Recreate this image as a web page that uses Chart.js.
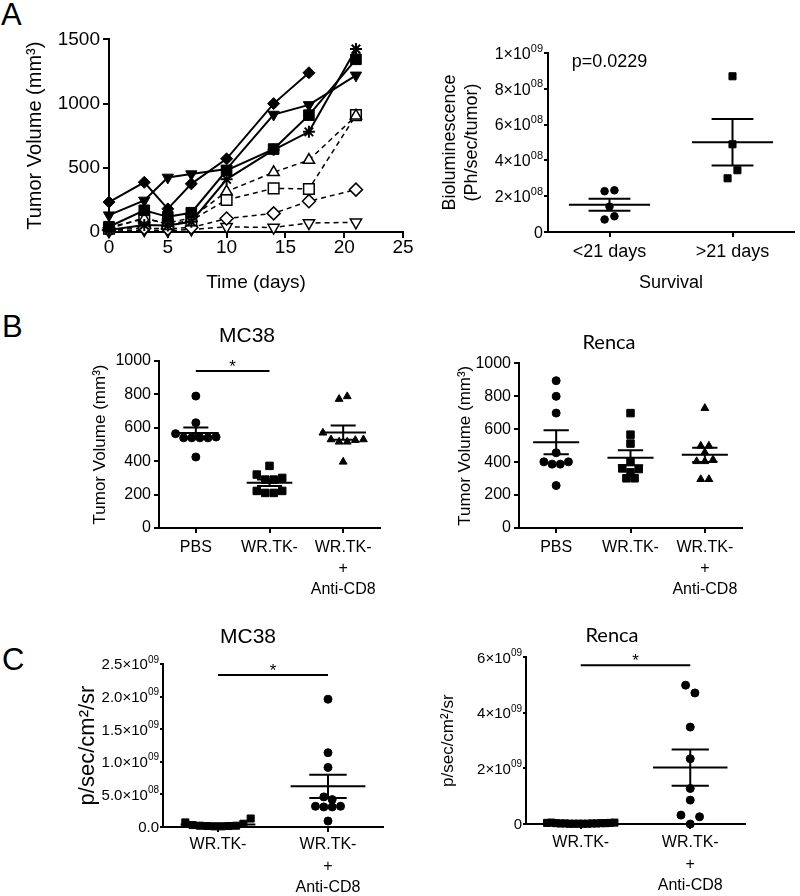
<!DOCTYPE html>
<html><head><meta charset="utf-8">
<script src="https://cdn.jsdelivr.net/npm/chart.js@4.4.1/dist/chart.umd.min.js"></script>
<style>
body{margin:0;background:#fff;width:800px;height:896px;position:relative;overflow:hidden;font-family:"Liberation Sans",Arial,sans-serif;}
canvas{position:absolute;}
.lab{position:absolute;font-size:31px;line-height:31px;color:#000;}
</style></head><body>
<div class="lab" style="left:1px;top:-1px">A</div>
<div class="lab" style="left:2px;top:311px">B</div>
<div class="lab" style="left:2px;top:644px">C</div>
<canvas id="aL"></canvas><canvas id="aR"></canvas>
<canvas id="bL"></canvas><canvas id="bR"></canvas>
<canvas id="cL"></canvas><canvas id="cR"></canvas>
<script>
// ---------------- DATA ----------------
// Panel A (left): tumor volume over time, individual mice
const days = [0, 3, 5, 7, 10, 14, 17, 21];
const solidDiamond = [233, 387, 180, 375, 570, 1000, 1240, null];
const solidTriDown = [131, 246, 425, 451, 490, 915, 990, 1220];
const solidSquare  = [41, 169, 118, 150, 480, 646, 910, 1345];
const solidStar    = [15, 55, 50, 80, 410, 640, 780, 1425];
const openTriUp    = [40, 100, 70, 110, 315, 465, 560, 905];
const openSquare   = [25, 110, 60, 90, 250, 340, 335, 910];
const openDiamond  = [15, 30, 25, 35, 105, 145, 240, 330];
const openTriDown  = [5, 15, 10, 20, 40, 35, 70, 75];
const aLxTitle = 'Time (days)';
const aLyTitle = 'Tumor Volume (mm³)';

// Panel A (right): bioluminescence vs survival
const survivalCats = ['<21 days', '>21 days'];
const biolumLt21 = [2.28e8, 2.33e8, 1.42e8, 0.7e8, 0.88e8];
const biolumGt21 = [8.7e8, 4.9e8, 3.0e8, 3.45e8];
const aRyTicks = ['0', '2×10⁰⁸', '4×10⁰⁸', '6×10⁰⁸', '8×10⁰⁸', '1×10⁰⁹'];
const aRpValue = 'p=0.0229';

// Panel B: tumor volume
const treatCats3 = ['PBS', 'WR.TK-', 'WR.TK-\n+\nAnti-CD8'];
const mc38PBS  = [790, 630, 565, 540, 540, 540, 540, 545, 425];
const mc38WR   = [372, 320, 290, 290, 300, 222, 210, 210, 222];
const mc38Anti = [772, 788, 570, 530, 516, 516, 526, 530, 396];
const rencaPBS  = [895, 800, 698, 457, 402, 388, 388, 402, 258];
const rencaWR   = [698, 567, 513, 402, 362, 338, 302, 302, 358];
const rencaAnti = [728, 499, 499, 459, 405, 405, 415, 296, 296];
const bTicks = ['0', '200', '400', '600', '800', '1000'];

// Panel C: p/sec/cm2/sr
const treatCats2 = ['WR.TK-', 'WR.TK-\n+\nAnti-CD8'];
const cMC38WR   = [0.07e9, 0.03e9, 0.02e9, 0.015e9, 0.01e9, 0.01e9, 0.015e9, 0.02e9, 0.05e9, 0.13e9];
const cMC38Anti = [1.96e9, 1.14e9, 0.914e9, 0.462e9, 0.42e9, 0.318e9, 0.308e9, 0.308e9, 0.318e9, 0.092e9];
const cRencaWR  = [0.04e9, 0.05e9, 0.03e9, 0.02e9, 0.02e9, 0.01e9, 0.01e9, 0.01e9, 0.01e9, 0.01e9, 0.02e9, 0.02e9, 0.03e9, 0.03e9, 0.04e9, 0.05e9];
const cRencaAnti = [5.0e9, 4.72e9, 3.49e9, 2.35e9, 1.28e9, 0.86e9, 0.32e9, 0.0, 0.26e9];
const cLyTicks = ['0.0', '5.0×10⁰⁸', '1.0×10⁰⁹', '1.5×10⁰⁹', '2.0×10⁰⁹', '2.5×10⁰⁹'];
const cRyTicks = ['0', '2×10⁰⁹', '4×10⁰⁹', '6×10⁰⁹'];
const cYTitle = 'p/sec/cm²/sr';
const sigMC38B = 940, sigMC38C = 2.33e9, sigRencaC = 5.72e9;

// ---------------- HELPERS ----------------
const FONT = '"Liberation Sans", Arial, sans-serif';
const NARROW = 'Lato, "Liberation Sans", sans-serif';
Chart.defaults.font.family = FONT;
Chart.defaults.color = '#000';

const mean = a => a.reduce((s, v) => s + v, 0) / a.length;
const sem = a => { const m = mean(a); return Math.sqrt(a.reduce((s, v) => s + (v - m) ** 2, 0) / (a.length - 1) / a.length); };

function swarm(vals, tol, step) {
  const idx = vals.map((_, i) => i).sort((a, b) => vals[a] - vals[b]);
  const off = vals.map(() => 0);
  let cur = [idx[0]];
  const flush = () => { cur.sort((a, b) => a - b); cur.forEach((i, k) => off[i] = (k - (cur.length - 1) / 2) * step); };
  for (let k = 1; k < idx.length; k++) {
    if (vals[idx[k]] - vals[idx[k - 1]] < tol) cur.push(idx[k]); else { flush(); cur = [idx[k]]; }
  }
  flush();
  return off;
}

function place(id, b) {
  const c = document.getElementById(id);
  c.width = b.w; c.height = b.h;
  c.style.left = b.l + 'px'; c.style.top = b.t + 'px';
  c.style.width = b.w + 'px'; c.style.height = b.h + 'px';
  return c;
}
const gridOpt = tl => ({display: true, drawOnChartArea: false, drawTicks: true, tickLength: tl, tickWidth: 2, tickColor: '#000', color: '#000', lineWidth: 2});
const border = {display: true, color: '#000', width: 2};

const notes = {
  id: 'notes',
  afterDatasetsDraw(chart, args, o) {
    const {ctx, scales: {x, y}} = chart;
    (o.items || []).forEach(it => {
      ctx.save();
      ctx.font = (it.size || 16) + 'px ' + (it.family || FONT);
      ctx.fillStyle = '#000';
      ctx.textAlign = 'center';
      ctx.textBaseline = it.baseline || 'middle';
      ctx.fillText(it.text, x.getPixelForValue(it.x), y.getPixelForValue(it.y) + (it.dy || 0));
      ctx.restore();
    });
  }
};

// y tick labels with true superscript exponents (e.g. 2×10⁰⁸)
const SUP = {'⁰': '0', '¹': '1', '²': '2', '³': '3', '⁴': '4', '⁵': '5', '⁶': '6', '⁷': '7', '⁸': '8', '⁹': '9'};
const supTicks = {
  id: 'supTicks',
  afterDraw(chart, args, o) {
    if (!o.labels) return;
    const ys = chart.scales.y, ctx = chart.ctx, f = o.size;
    const xr = ys.right - o.tl - o.pad;
    ctx.save();
    ctx.fillStyle = '#000';
    ctx.textBaseline = 'alphabetic';
    ys.ticks.forEach(t => {
      const lab = o.labels[Math.round(t.value / o.step)];
      if (lab === undefined) return;
      const py = ys.getPixelForValue(t.value);
      const base = py + 0.358 * f;
      const m = lab.match(/^(.*?)([⁰¹²³⁴⁵⁶⁷⁸⁹]+)$/);
      if (!m) {
        ctx.font = f + 'px ' + FONT; ctx.textAlign = 'right';
        ctx.fillText(lab, xr, base);
        return;
      }
      const exp = m[2].split('').map(ch => SUP[ch]).join('');
      const fe = Math.round(f * 0.66);
      ctx.font = fe + 'px ' + FONT;
      const we = ctx.measureText(exp).width;
      ctx.textAlign = 'left';
      ctx.fillText(exp, xr - we, base - 0.45 * f);
      ctx.font = f + 'px ' + FONT; ctx.textAlign = 'right';
      ctx.fillText(m[1], xr - we, base);
    });
    ctx.restore();
  }
};

// ---------------- PANEL A LEFT ----------------
(function () {
  const b = {l: 0, t: 25, w: 420, h: 275};
  const series = [
    {v: solidDiamond, s: 'rectRot', r: 6, f: true},
    {v: solidTriDown, s: 'triangle', r: 6.5, f: true, rot: 180},
    {v: solidSquare, s: 'rect', r: 7.5, f: true},
    {v: solidStar, s: 'star', r: 6, f: true},
    {v: openTriUp, s: 'triangle', r: 6.5, f: false},
    {v: openSquare, s: 'rect', r: 7.5, f: false},
    {v: openDiamond, s: 'rectRot', r: 6.5, f: false},
    {v: openTriDown, s: 'triangle', r: 6.5, f: false, rot: 180}
  ];
  const ds = series.map(o => ({
    data: days.map((d, i) => ({x: d, y: o.v[i]})),
    showLine: true, borderColor: '#000', borderWidth: o.f ? 2 : 1.5, borderDash: o.f ? [] : [5, 4],
    pointStyle: o.s, pointRadius: o.r, pointRotation: o.rot || 0,
    pointBackgroundColor: o.f ? '#000' : '#fff', pointBorderColor: '#000', pointBorderWidth: o.f ? (o.s === 'star' ? 2 : 1) : 1.5,
    clip: false, spanGaps: false
  }));
  new Chart(place('aL', b), {
    type: 'scatter',
    data: {datasets: ds},
    options: {
      responsive: false, animation: false, devicePixelRatio: 1,
      layout: {padding: {top: 12, right: 17, left: 0, bottom: 0}},
      plugins: {legend: {display: false}, tooltip: {enabled: false}},
      scales: {
        x: {type: 'linear', min: 0, max: 25, ticks: {stepSize: 5, callback: v => String(v), font: {size: 19, lineHeight: 1}, padding: 0, color: '#000', maxRotation: 0},
            grid: gridOpt(6), border,
            title: {display: true, text: aLxTitle, font: {size: 19}, padding: {top: 0, bottom: 6}, color: '#000'},
            afterFit: s => { s.height = 68; }},
        y: {min: 0, max: 1500, ticks: {stepSize: 500, callback: v => String(v), font: {size: 19}, padding: 3, color: '#000'},
            grid: gridOpt(6), border,
            title: {display: true, text: aLyTitle, font: {size: 20}, padding: {top: 23, bottom: 0}, color: '#000'},
            afterFit: s => { s.width = 109; }}
      }
    }
  });
})();

// ---------------- DOT CHART BUILDER ----------------
function dotChart(id, b, c) {
  const n = c.cats.length;
  const ds = [];
  c.groups.forEach((g, i) => {
    const off = swarm(g.vals, c.tol, g.step);
    ds.push({type: 'scatter', data: g.vals.map((v, k) => ({x: i + off[k], y: v})),
      pointStyle: g.style, pointRadius: g.r, pointRotation: 0,
      pointBackgroundColor: '#000', pointBorderColor: '#000', pointBorderWidth: 1, clip: false, order: 2});
  });
  const ms = [];
  c.groups.forEach((g, i) => {
    const m = mean(g.vals), s = sem(g.vals), wm = c.wMean, ws = c.wSem;
    ms.push({x: i - wm, y: m}, {x: i + wm, y: m}, {x: i, y: null},
            {x: i - ws, y: m + s}, {x: i + ws, y: m + s}, {x: i, y: null},
            {x: i - ws, y: m - s}, {x: i + ws, y: m - s}, {x: i, y: null},
            {x: i, y: m - s}, {x: i, y: m + s}, {x: i, y: null});
  });
  ds.push({type: 'line', data: ms, borderColor: '#000', borderWidth: 2, pointRadius: 0, clip: false, order: 1, spanGaps: false, fill: false});
  if (c.sig) ds.push({type: 'line', data: [{x: 0, y: c.sig}, {x: 1, y: c.sig}], borderColor: '#000', borderWidth: 2, pointRadius: 0, clip: false, order: 1, fill: false});
  const noteItems = (c.notes || []).slice();
  if (c.sig) noteItems.push({text: '*', x: 0.5, y: c.sig, baseline: 'alphabetic', size: 17, dy: 1});
  const useSup = c.yLabels.some(l => /[⁰¹²³⁴⁵⁶⁷⁸⁹]/.test(l));
  new Chart(place(id, b), {
    type: 'scatter',
    data: {datasets: ds},
    plugins: [notes, supTicks],
    options: {
      responsive: false, animation: false, devicePixelRatio: 1,
      layout: {padding: {top: b.pt || 0, right: b.pr || 0, left: b.pl || 0, bottom: 0}},
      plugins: {
        legend: {display: false}, tooltip: {enabled: false},
        title: c.title ? {display: true, text: c.title, color: '#000', font: c.titleFont, padding: {top: c.tp1, bottom: c.tp2}} : {display: false},
        notes: {items: noteItems},
        supTicks: useSup ? {labels: c.yLabels, step: c.yStep, tl: c.yTl, pad: c.yPad, size: c.yFont.size} : {}
      },
      scales: {
        x: {type: 'linear', min: -0.5, max: n - 0.5,
            afterBuildTicks: s => { s.ticks = c.cats.map((_, i) => ({value: i})); },
            ticks: {callback: v => String(c.cats[Math.round(v)]).split('\n'), autoSkip: false, maxRotation: 0, font: c.xFont, padding: c.xPad, color: '#000'},
            grid: gridOpt(5), border,
            title: c.xTitle ? {display: true, text: c.xTitle, font: {size: 18}, padding: {top: 0, bottom: 6}, color: '#000'} : {display: false},
            afterFit: s => { s.height = b.xH; }},
        y: {min: c.yMin, max: c.yMax,
            ticks: {display: !useSup, stepSize: c.yStep, callback: v => c.yLabels[Math.round(v / c.yStep)], font: c.yFont, padding: c.yPad, color: '#000'},
            grid: gridOpt(c.yTl), border,
            title: {display: true, text: c.yTitle, font: c.yTitleFont, padding: {top: c.yTitlePad, bottom: 0}, color: '#000'},
            afterFit: s => { s.width = b.yW; }}
      }
    }
  });
}

// ---------------- PANEL A RIGHT ----------------
dotChart('aR', {l: 438, t: 25, w: 362, h: 275, pt: 28, pr: 0, yW: 110, xH: 68}, {
  cats: survivalCats, tol: 0.5e8, wMean: 0.33, wSem: 0.17,
  groups: [{vals: biolumLt21, style: 'circle', r: 3.8, step: 0.08}, {vals: biolumGt21, style: 'rect', r: 5, step: 0.08}],
  yMin: 0, yMax: 1e9, yStep: 2e8, yLabels: aRyTicks, yFont: {size: 16}, yPad: 1, yTl: 4,
  yTitle: ['Bioluminescence', '(Ph/sec/tumor)'], yTitleFont: {size: 18, lineHeight: '22px'}, yTitlePad: 1,
  xFont: {size: 18}, xPad: 4, xTitle: 'Survival',
  notes: [{text: aRpValue, x: 0, y: 9.5e8, size: 18}]
});

// ---------------- PANEL B ----------------
dotChart('bL', {l: 80, t: 315, w: 310, h: 295, pl: 34, pr: 10, yW: 45, xH: 82}, {
  cats: treatCats3, tol: 45, wMean: 0.31, wSem: 0.17,
  groups: [{vals: mc38PBS, style: 'circle', r: 4, step: 0.11}, {vals: mc38WR, style: 'rect', r: 5.3, step: 0.115}, {vals: mc38Anti, style: 'triangle', r: 4.5, step: 0.11}],
  yMin: 0, yMax: 1000, yStep: 200, yLabels: bTicks, yFont: {size: 16}, yPad: 3, yTl: 5,
  yTitle: 'Tumor Volume (mm³)', yTitleFont: {size: 17}, yTitlePad: -24.2,
  xFont: {size: 16, lineHeight: '21px'}, xPad: 4.5,
  title: 'MC38', titleFont: {size: 21, weight: 'normal'}, tp1: 8.4, tp2: 12.4,
  sig: sigMC38B
});
dotChart('bR', {l: 445, t: 320, w: 307, h: 290, pl: 31, pr: 10, yW: 43, xH: 82}, {
  cats: treatCats3, tol: 35, wMean: 0.31, wSem: 0.17,
  groups: [{vals: rencaPBS, style: 'circle', r: 4, step: 0.11}, {vals: rencaWR, style: 'rect', r: 5.3, step: 0.11}, {vals: rencaAnti, style: 'triangle', r: 4.5, step: 0.11}],
  yMin: 0, yMax: 1000, yStep: 200, yLabels: bTicks, yFont: {size: 16}, yPad: 3, yTl: 5,
  yTitle: 'Tumor Volume (mm³)', yTitleFont: {size: 17}, yTitlePad: -21.2,
  xFont: {size: 16, lineHeight: '21px'}, xPad: 4.5,
  title: 'Renca', titleFont: {size: 20, weight: 'normal', family: NARROW}, tp1: 11, tp2: 8.4
});

// ---------------- PANEL C ----------------
dotChart('cL', {l: 70, t: 615, w: 323, h: 281, pl: 43, pr: 10, yW: 50, xH: 69}, {
  cats: treatCats2, tol: 0.08e9, wMean: 0.34, wSem: 0.17,
  groups: [{vals: cMC38WR, style: 'rect', r: 5, step: 0.066}, {vals: cMC38Anti, style: 'circle', r: 4, step: 0.076}],
  yMin: 0, yMax: 2.5e9, yStep: 5e8, yLabels: cLyTicks, yFont: {size: 15}, yPad: 1, yTl: 3,
  yTitle: cYTitle, yTitleFont: {size: 22}, yTitlePad: -38.2,
  xFont: {size: 16, lineHeight: '21.5px'}, xPad: 2.25,
  title: 'MC38', titleFont: {size: 21, weight: 'normal'}, tp1: 9.4, tp2: 14.4,
  sig: sigMC38C
});
dotChart('cR', {l: 430, t: 612, w: 325, h: 284, pl: 49, pr: 10, yW: 47, xH: 72}, {
  cats: treatCats2, tol: 0.3e9, wMean: 0.34, wSem: 0.17,
  groups: [{vals: cRencaWR, style: 'rect', r: 5, step: 0.041}, {vals: cRencaAnti, style: 'circle', r: 4, step: 0.085}],
  yMin: 0, yMax: 6e9, yStep: 2e9, yLabels: cRyTicks, yFont: {size: 15}, yPad: 1, yTl: 3,
  yTitle: cYTitle, yTitleFont: {size: 17}, yTitlePad: -41.2,
  xFont: {size: 16, lineHeight: '21.5px'}, xPad: 3.25,
  title: 'Renca', titleFont: {size: 20, weight: 'normal', family: NARROW}, tp1: 12, tp2: 9.4,
  sig: sigRencaC
});
</script>
</body></html>
